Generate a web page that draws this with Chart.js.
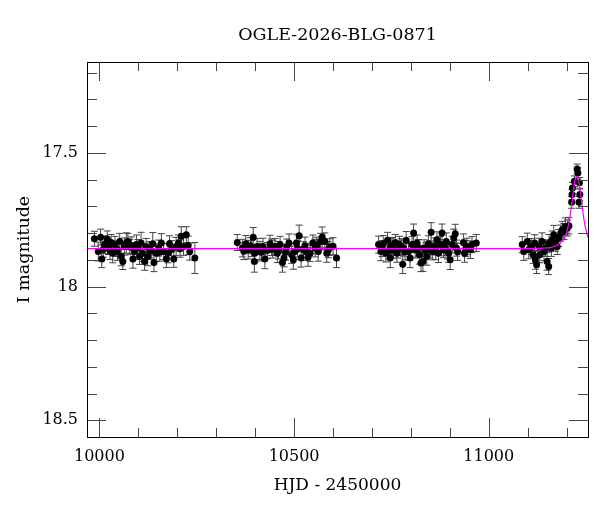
<!DOCTYPE html>
<html>
<head>
<meta charset="utf-8">
<title>OGLE-2026-BLG-0871</title>
<script src="https://cdn.jsdelivr.net/npm/chart.js@4.4.1/dist/chart.umd.min.js"></script>
<style>
  html, body { margin: 0; padding: 0; background: #fff; }
  #wrap { width: 600px; height: 512px; }
</style>
</head>
<body>
<div id="wrap"><canvas id="lightcurve" width="600" height="512"></canvas></div>
<script>
// observations: [HJD - 2450000, I mag, error]
const season1 = [
  [9987, 17.821, 0.028], [9997, 17.869, 0.035], [10003, 17.815, 0.030], [10006, 17.897, 0.032],
  [10010, 17.860, 0.030], [10013, 17.843, 0.033], [10020, 17.822, 0.030], [10023, 17.852, 0.028],
  [10027, 17.865, 0.034], [10030, 17.835, 0.030], [10034, 17.875, 0.036], [10040, 17.843, 0.031],
  [10044, 17.858, 0.029], [10046, 17.869, 0.033], [10052, 17.831, 0.030], [10056, 17.887, 0.035],
  [10060, 17.906, 0.030], [10064, 17.850, 0.032], [10069, 17.837, 0.038], [10073, 17.831, 0.030],
  [10078, 17.852, 0.029], [10082, 17.845, 0.031], [10086, 17.897, 0.034], [10090, 17.869, 0.030],
  [10095, 17.843, 0.036], [10099, 17.856, 0.032], [10103, 17.887, 0.030], [10107, 17.837, 0.040],
  [10111, 17.875, 0.031], [10116, 17.906, 0.033], [10120, 17.850, 0.030], [10124, 17.887, 0.035],
  [10129, 17.862, 0.030], [10133, 17.866, 0.032], [10137, 17.840, 0.042], [10140, 17.910, 0.034],
  [10146, 17.875, 0.031], [10152, 17.856, 0.030], [10155, 17.872, 0.033], [10159, 17.837, 0.035],
  [10165, 17.869, 0.030], [10172, 17.897, 0.032], [10176, 17.875, 0.036], [10180, 17.840, 0.030],
  [10185, 17.861, 0.033], [10191, 17.897, 0.031], [10197, 17.850, 0.034], [10203, 17.837, 0.030],
  [10207, 17.858, 0.032], [10210, 17.812, 0.036], [10216, 17.850, 0.033], [10223, 17.806, 0.030],
  [10228, 17.846, 0.035], [10232, 17.869, 0.032], [10245, 17.893, 0.058]
];
const season2 = [
  [10354, 17.835, 0.030], [10367, 17.856, 0.033], [10371, 17.868, 0.031], [10376, 17.840, 0.031],
  [10382, 17.862, 0.035], [10388, 17.847, 0.030], [10391, 17.858, 0.030], [10395, 17.815, 0.036],
  [10398, 17.906, 0.040], [10399, 17.875, 0.032], [10405, 17.850, 0.030], [10412, 17.865, 0.034],
  [10416, 17.872, 0.032], [10420, 17.850, 0.031], [10425, 17.897, 0.036], [10431, 17.865, 0.030],
  [10438, 17.840, 0.032], [10442, 17.853, 0.031], [10445, 17.860, 0.033], [10451, 17.850, 0.030],
  [10457, 17.875, 0.035], [10460, 17.864, 0.033], [10464, 17.843, 0.031], [10470, 17.910, 0.036],
  [10474, 17.893, 0.033], [10478, 17.871, 0.030], [10481, 17.852, 0.030], [10487, 17.837, 0.034],
  [10494, 17.881, 0.032], [10498, 17.900, 0.035], [10502, 17.869, 0.030], [10506, 17.837, 0.033],
  [10509, 17.858, 0.031], [10513, 17.810, 0.040], [10518, 17.893, 0.034], [10524, 17.862, 0.030],
  [10528, 17.847, 0.032], [10531, 17.870, 0.032], [10536, 17.889, 0.035], [10541, 17.875, 0.031],
  [10548, 17.837, 0.030], [10554, 17.856, 0.033], [10558, 17.846, 0.031], [10562, 17.869, 0.036],
  [10568, 17.831, 0.030], [10572, 17.815, 0.038], [10579, 17.831, 0.032], [10584, 17.875, 0.034],
  [10588, 17.862, 0.030], [10592, 17.852, 0.031], [10600, 17.849, 0.032], [10609, 17.893, 0.036]
];
const season3 = [
  [10717, 17.843, 0.032], [10723, 17.869, 0.034], [10726, 17.858, 0.030], [10729, 17.840, 0.031],
  [10736, 17.875, 0.033], [10740, 17.827, 0.030], [10743, 17.866, 0.031], [10747, 17.893, 0.036],
  [10749, 17.850, 0.031], [10752, 17.846, 0.030], [10755, 17.862, 0.032], [10760, 17.835, 0.030],
  [10764, 17.875, 0.034], [10767, 17.861, 0.032], [10771, 17.843, 0.031], [10775, 17.852, 0.031],
  [10779, 17.916, 0.035], [10781, 17.856, 0.030], [10785, 17.870, 0.030], [10788, 17.827, 0.033],
  [10794, 17.869, 0.032], [10798, 17.893, 0.036], [10803, 17.843, 0.030], [10807, 17.800, 0.034],
  [10811, 17.862, 0.031], [10816, 17.837, 0.030], [10819, 17.855, 0.031], [10822, 17.881, 0.035],
  [10826, 17.912, 0.032], [10831, 17.906, 0.037], [10834, 17.856, 0.031], [10838, 17.866, 0.030],
  [10841, 17.887, 0.033], [10845, 17.840, 0.030], [10849, 17.861, 0.032], [10852, 17.797, 0.036],
  [10855, 17.869, 0.031], [10860, 17.850, 0.032], [10864, 17.868, 0.031], [10867, 17.825, 0.030],
  [10871, 17.875, 0.035], [10876, 17.843, 0.031], [10880, 17.800, 0.034], [10884, 17.862, 0.030],
  [10887, 17.855, 0.030], [10891, 17.831, 0.032], [10894, 17.866, 0.031], [10897, 17.875, 0.034],
  [10901, 17.900, 0.036], [10906, 17.843, 0.031], [10910, 17.818, 0.033], [10914, 17.802, 0.035],
  [10917, 17.856, 0.030], [10920, 17.870, 0.032], [10935, 17.835, 0.032], [10938, 17.875, 0.034],
  [10941, 17.858, 0.030], [10944, 17.850, 0.031], [10953, 17.862, 0.033], [10957, 17.843, 0.030],
  [10968, 17.837, 0.032]
];
const season4 = [
  [11086, 17.843, 0.030], [11090, 17.869, 0.033], [11099, 17.831, 0.031], [11103, 17.862, 0.034],
  [11109, 17.850, 0.030], [11114, 17.881, 0.032], [11118, 17.837, 0.031], [11120, 17.900, 0.035],
  [11123, 17.918, 0.033], [11129, 17.850, 0.031], [11131, 17.881, 0.030], [11137, 17.831, 0.032],
  [11142, 17.869, 0.034], [11146, 17.856, 0.031], [11150, 17.906, 0.033], [11154, 17.925, 0.030],
  [11155, 17.837, 0.032], [11161, 17.856, 0.031], [11163, 17.825, 0.033], [11167, 17.806, 0.035],
  [11172, 17.837, 0.031], [11176, 17.850, 0.030], [11180, 17.818, 0.032], [11185, 17.800, 0.030],
  [11189, 17.787, 0.031], [11193, 17.794, 0.030], [11197, 17.775, 0.032], [11202, 17.781, 0.030],
  [11206, 17.772, 0.031], [11213, 17.685, 0.022], [11214, 17.656, 0.020], [11215, 17.631, 0.021],
  [11220, 17.606, 0.020], [11227, 17.560, 0.018], [11229, 17.575, 0.019], [11232, 17.685, 0.022],
  [11233, 17.612, 0.020], [11234, 17.656, 0.021]
];

// fitted model curve
const modelHjd = [9968, 11100, 11140, 11160, 11175, 11185, 11195, 11202, 11208, 11212, 11216,
  11219, 11222, 11226, 11229, 11233, 11236, 11240, 11245, 11250, 11255];
const modelMag = [17.858, 17.858, 17.856, 17.853, 17.846, 17.836, 17.816, 17.787, 17.745, 17.705, 17.660,
  17.627, 17.601, 17.588, 17.594, 17.622, 17.650, 17.700, 17.752, 17.790, 17.817];

const xMajorTicks = [10000, 10500, 11000];
const xMinorTicks = [10100, 10200, 10300, 10400, 10600, 10700, 10800, 10900, 11100, 11200];
const yMajorTicks = [17.5, 18, 18.5];
const yMinorTicks = [17.2, 17.3, 17.4, 17.6, 17.7, 17.8, 17.9, 18.1, 18.2, 18.3, 18.4];

const TITLE = 'OGLE-2026-BLG-0871';
const SERIF = '"DejaVu Serif", "Liberation Serif", serif';

const observations = [...season1, ...season2, ...season3, ...season4];
const obsPoints = observations.map(o => ({ x: o[0], y: o[1], err: o[2] }));
const modelPoints = modelHjd.map((h, i) => ({ x: h, y: modelMag[i] }));

// vertical error bars with small caps, drawn under the points
const errorBars = {
  id: 'errorBars',
  beforeDatasetsDraw(chart) {
    const { ctx, chartArea, scales: { x, y } } = chart;
    ctx.save();
    ctx.beginPath();
    ctx.rect(chartArea.left, chartArea.top, chartArea.width, chartArea.height);
    ctx.clip();
    ctx.strokeStyle = '#444';
    ctx.lineWidth = 1;
    obsPoints.forEach(p => {
      const px = x.getPixelForValue(p.x);
      const y1 = y.getPixelForValue(p.y - p.err);
      const y2 = y.getPixelForValue(p.y + p.err);
      ctx.beginPath();
      ctx.moveTo(px, y1); ctx.lineTo(px, y2);
      ctx.moveTo(px - 3.5, y1); ctx.lineTo(px + 3.5, y1);
      ctx.moveTo(px - 3.5, y2); ctx.lineTo(px + 3.5, y2);
      ctx.stroke();
    });
    ctx.restore();
  }
};

// box frame with inward ticks on all four sides, plus the title over the plot box
const frameTicks = {
  id: 'frameTicks',
  afterDatasetsDraw(chart) {
    const { ctx, chartArea: a, scales: { x, y } } = chart;
    ctx.save();
    ctx.lineWidth = 1;
    ctx.strokeStyle = '#444';
    const tick = (vals, len) => {
      vals.forEach(v => {
        const px = Math.round(x.getPixelForValue(v)) + 0.5;
        ctx.beginPath();
        ctx.moveTo(px, a.bottom); ctx.lineTo(px, a.bottom - len);
        ctx.moveTo(px, a.top); ctx.lineTo(px, a.top + len);
        ctx.stroke();
      });
    };
    const ytick = (vals, len) => {
      vals.forEach(v => {
        const py = Math.round(y.getPixelForValue(v)) + 0.5;
        ctx.beginPath();
        ctx.moveTo(a.left, py); ctx.lineTo(a.left + len, py);
        ctx.moveTo(a.right, py); ctx.lineTo(a.right - len, py);
        ctx.stroke();
      });
    };
    tick(xMinorTicks, 9);
    tick(xMajorTicks, 19);
    ytick(yMinorTicks, 10);
    ytick(yMajorTicks, 19);
    ctx.strokeStyle = '#000';
    ctx.strokeRect(Math.round(a.left) + 0.5, Math.round(a.top) + 0.5,
      Math.round(a.width), Math.round(a.height));

    ctx.fillStyle = '#000';
    ctx.font = '17.5px ' + SERIF;
    ctx.textAlign = 'center';
    ctx.textBaseline = 'middle';
    ctx.fillText(TITLE, (a.left + a.right) / 2, 35);
    ctx.restore();
  }
};

new Chart(document.getElementById('lightcurve'), {
  type: 'scatter',
  data: {
    datasets: [
      {
        label: 'model',
        type: 'line',
        data: modelPoints,
        borderColor: '#ff00ff',
        borderWidth: 1.2,
        pointRadius: 0,
        cubicInterpolationMode: 'monotone',
        fill: false,
        order: 0
      },
      {
        label: 'OGLE I',
        data: obsPoints,
        backgroundColor: '#000',
        borderColor: '#000',
        pointRadius: 3.5,
        borderWidth: 0,
        order: 1
      }
    ]
  },
  options: {
    responsive: false,
    animation: false,
    devicePixelRatio: 1,
    layout: { padding: { left: 0, right: 12, top: 62, bottom: 0 } },
    plugins: {
      legend: { display: false },
      tooltip: { enabled: false },
      title: { display: false }
    },
    scales: {
      x: {
        type: 'linear',
        min: 9968,
        max: 11255,
        afterBuildTicks: s => { s.ticks = xMajorTicks.map(v => ({ value: v })); },
        afterFit: s => { s.height = 75; },
        grid: { display: false, drawTicks: false },
        border: { display: false },
        ticks: {
          color: '#000',
          font: { family: SERIF, size: 16 },
          padding: 10,
          maxRotation: 0,
          autoSkip: false,
          callback: v => String(v)
        },
        title: {
          display: true,
          text: 'HJD - 2450000',
          color: '#000',
          font: { family: SERIF, size: 17 },
          padding: { top: 0, bottom: 16 }
        }
      },
      y: {
        type: 'linear',
        reverse: true,
        min: 17.16,
        max: 18.5625,
        afterBuildTicks: s => { s.ticks = yMajorTicks.map(v => ({ value: v })); },
        afterFit: s => { s.width = 87; },
        grid: { display: false, drawTicks: false },
        border: { display: false },
        ticks: {
          color: '#000',
          font: { family: SERIF, size: 16 },
          padding: 9,
          autoSkip: false,
          callback: v => String(v)
        },
        title: {
          display: true,
          text: 'I magnitude',
          color: '#000',
          font: { family: SERIF, size: 17.5 },
          padding: { top: 13.5, bottom: 0 }
        }
      }
    }
  },
  plugins: [errorBars, frameTicks]
});
</script>
</body>
</html>
